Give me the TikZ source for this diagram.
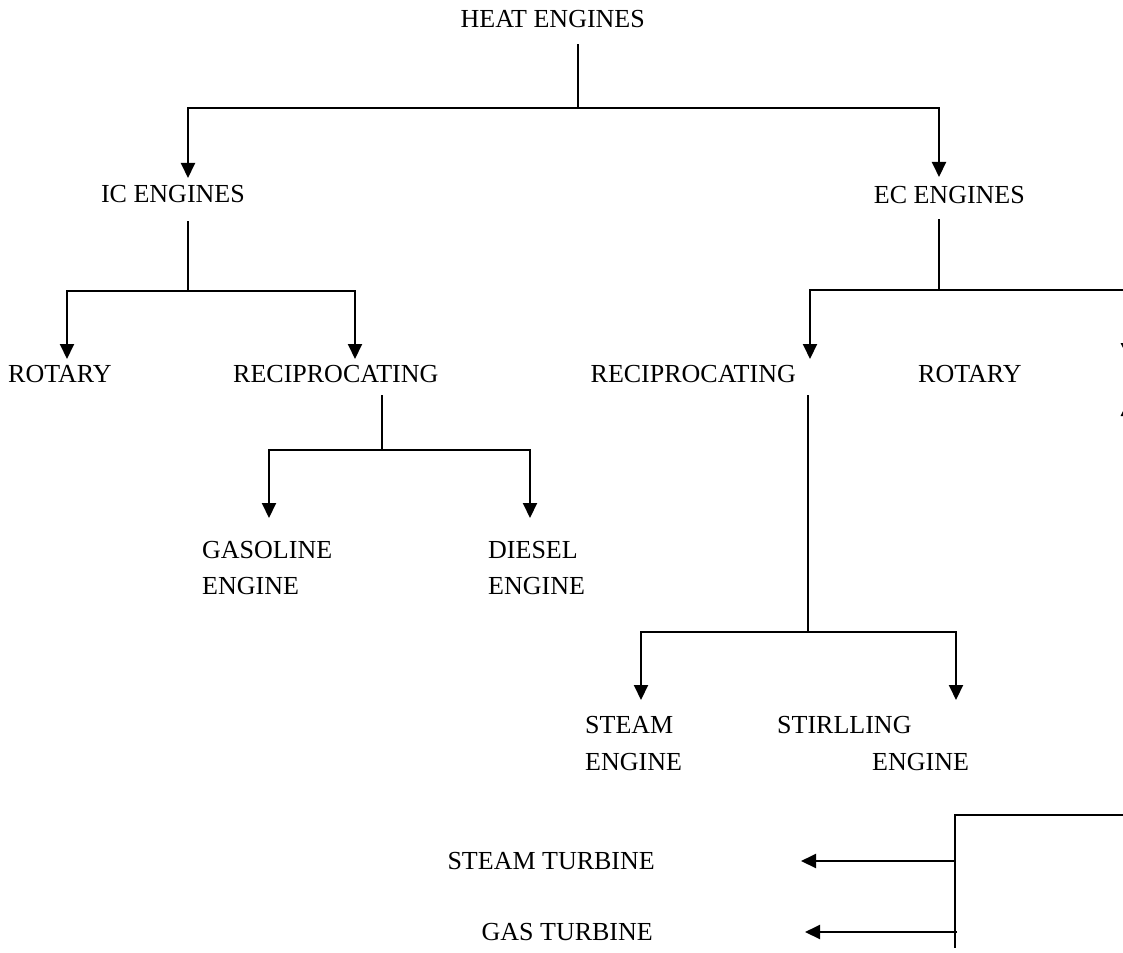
\documentclass[tikz,border=0pt]{standalone}
\usepackage{fontspec}
\setmainfont{Liberation Serif}
\usetikzlibrary{arrows.meta}
\tikzset{
  lbl/.style={inner sep=0pt, font=\fontsize{26}{36}\selectfont},
  trunk/.style={line width=1.5pt, line cap=rect},
  arr/.style={line width=2pt, -{Triangle[length=15pt,width=14pt]}},
  frag/.style={fill=black, draw=none}
}
\begin{document}
\begin{tikzpicture}[x=1pt,y=-1pt]
\useasboundingbox (0,0) rectangle (1123,952);
% labels
\node[lbl, anchor=base east] (heat) at (645,28) {HEAT ENGINES};
\node[lbl, anchor=base east] (ic) at (245,202) {IC ENGINES};
\node[lbl, anchor=base east] (ec) at (1025,203) {EC ENGINES};
\node[lbl, anchor=base west] (rot1) at (8,382) {ROTARY};
\node[lbl, anchor=base west] (rec1) at (233,382) {RECIPROCATING};
\node[lbl, anchor=base east] (rec2) at (796,382) {RECIPROCATING};
\node[lbl, anchor=base west] (rot2) at (918,382) {ROTARY};
\node[lbl, anchor=base west] (gasa) at (202,558) {GASOLINE};
\node[lbl, anchor=base west] (gasb) at (202,594) {ENGINE};
\node[lbl, anchor=base west] (diea) at (488,558) {DIESEL};
\node[lbl, anchor=base west] (dieb) at (488,594) {ENGINE};
\node[lbl, anchor=base west] (stea) at (585,733) {STEAM};
\node[lbl, anchor=base west] (steb) at (585,770) {ENGINE};
\node[lbl, anchor=base west] (stia) at (777,733) {STIRLLING};
\node[lbl, anchor=base west] (stib) at (872,770) {ENGINE};
\node[lbl, anchor=base east] (sturb) at (655,869) {STEAM TURBINE};
\node[lbl, anchor=base east] (gturb) at (653,940) {GAS TURBINE};
% junction coordinates
\coordinate (h0) at (578,45);
\coordinate (h1) at (578,108);
\coordinate (hL) at (188,108);
\coordinate (hR) at (939,108);
\coordinate (icT) at (188,178);
\coordinate (ecT) at (939,177);
\coordinate (ic0) at (188,222);
\coordinate (ic1) at (188,291);
\coordinate (icL) at (67,291);
\coordinate (icR) at (355,291);
\coordinate (r1T) at (67,359);
\coordinate (r2T) at (355,359);
\coordinate (ec0) at (939,220);
\coordinate (ec1) at (939,290);
\coordinate (ecL) at (810,290);
\coordinate (ecR) at (1130,290);
\coordinate (r3T) at (810,359);
\coordinate (rc0) at (382,396);
\coordinate (rc1) at (382,450);
\coordinate (rcL) at (269,450);
\coordinate (rcR) at (530,450);
\coordinate (gT) at (269,518);
\coordinate (dT) at (530,518);
\coordinate (re0) at (808,396);
\coordinate (re1) at (808,632);
\coordinate (reL) at (641,632);
\coordinate (reR) at (956,632);
\coordinate (sT) at (641,700);
\coordinate (tT) at (956,700);
\coordinate (bR) at (1130,815);
\coordinate (bC) at (955,815);
\coordinate (bB) at (955,947);
\coordinate (b1) at (955,861);
\coordinate (b1T) at (801,861);
\coordinate (b2) at (957,932);
\coordinate (b2T) at (805,932);
% connectors
\draw[trunk] (h0) -- (h1);
\draw[trunk] (hL) -- (hR);
\draw[arr] (hL) -- (icT);
\draw[arr] (hR) -- (ecT);
\draw[trunk] (ic0) -- (ic1);
\draw[trunk] (icL) -- (icR);
\draw[arr] (icL) -- (r1T);
\draw[arr] (icR) -- (r2T);
\draw[trunk] (ec0) -- (ec1);
\draw[trunk] (ecL) -- (ecR);
\draw[arr] (ecL) -- (r3T);
\draw[trunk] (rc0) -- (rc1);
\draw[trunk] (rcL) -- (rcR);
\draw[arr] (rcL) -- (gT);
\draw[arr] (rcR) -- (dT);
\draw[trunk] (re0) -- (re1);
\draw[trunk] (reL) -- (reR);
\draw[arr] (reL) -- (sT);
\draw[arr] (reR) -- (tT);
\draw[trunk, line width=2pt] (bR) -- (bC) -- (bB);
\draw[arr] (b1) -- (b1T);
\draw[arr] (b2) -- (b2T);
% fragments at the right edge
\fill[frag] (1120.5,343) -- (1135.5,343) -- (1128,358) -- cycle;
\fill[frag] (1120.5,416) -- (1135.5,416) -- (1128,401) -- cycle;
\end{tikzpicture}
\end{document}
